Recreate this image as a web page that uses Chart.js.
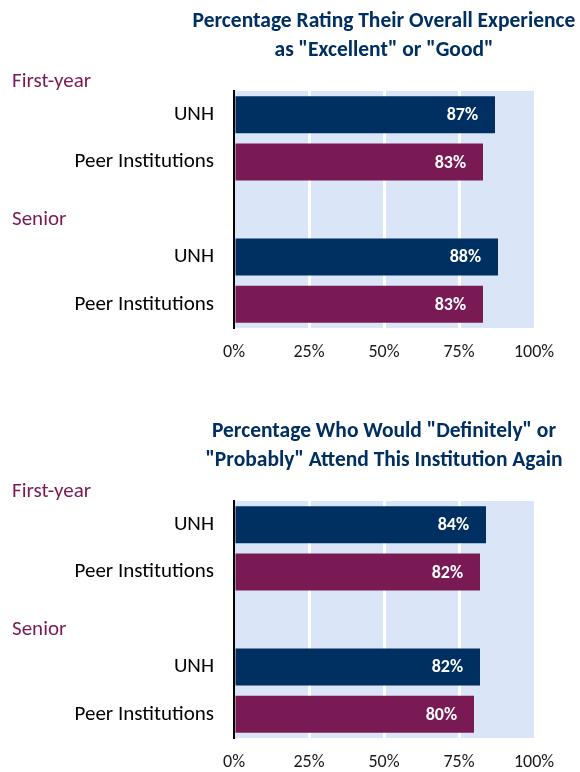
<!DOCTYPE html>
<html>
<head>
<meta charset="utf-8">
<script src="https://cdn.jsdelivr.net/npm/chart.js@4.4.1/dist/chart.umd.min.js"></script>
<style>
  html, body { margin: 0; padding: 0; background: #fff; overflow: hidden; }
  .box { position: absolute; left: 0; width: 580px; }
  #box1 { top: 0; height: 386px; }
  #box2 { top: 410px; height: 362px; }
</style>
</head>
<body>
<div class="box" id="box1"><canvas id="chart1"></canvas></div>
<div class="box" id="box2"><canvas id="chart2"></canvas></div>
<script>
// data
var categories = ['UNH', 'Peer Institutions', '', 'UNH', 'Peer Institutions'];
var groups = ['First-year', 'Senior'];
var experienceValues = [87, 83, null, 88, 83];
var attendValues = [84, 82, null, 82, 80];
var tickValues = [0, 25, 50, 75, 100];
var experienceTitle = ['Percentage Rating Their Overall Experience', 'as "Excellent" or "Good"'];
var attendTitle = ['Percentage Who Would "Definitely" or', '"Probably" Attend This Institution Again'];

var NAVY = '#002f62';
var MAROON = '#7a1a55';
var PLOT_BG = '#dae6f7';
var FONT = 'Carlito, Calibri, Lato, sans-serif';

var barColors = categories.map(function (c, i) {
  return i % 3 === 0 ? NAVY : MAROON;
});

var decorPlugin = {
  id: 'decor',
  beforeDraw: function (chart) {
    var a = chart.chartArea;
    var ctx = chart.ctx;
    ctx.save();
    ctx.fillStyle = PLOT_BG;
    ctx.fillRect(a.left, a.top, a.right - a.left, a.bottom - a.top);
    ctx.restore();
  },
  afterDraw: function (chart) {
    var a = chart.chartArea;
    var ctx = chart.ctx;
    var opts = chart.options.plugins.decor;
    var y = chart.scales.y;
    ctx.save();

    // title, centred over the plot area
    ctx.fillStyle = NAVY;
    ctx.font = 'bold 21.5px ' + FONT;
    ctx.textAlign = 'center';
    ctx.textBaseline = 'alphabetic';
    var cx = (a.left + a.right) / 2;
    opts.title.forEach(function (line, i) {
      ctx.fillText(line, cx, 27 + i * 29);
    });

    // group labels
    ctx.textBaseline = 'middle';
    ctx.fillStyle = MAROON;
    ctx.font = '21px ' + FONT;
    ctx.textAlign = 'left';
    ctx.fillText(groups[0], 12, a.top - 9);
    ctx.fillText(groups[1], 12, y.getPixelForValue(2) + 10);

    // value labels inside bar ends
    ctx.fillStyle = '#fff';
    ctx.font = 'bold 18px ' + FONT;
    ctx.textAlign = 'right';
    var values = chart.data.datasets[0].data;
    chart.getDatasetMeta(0).data.forEach(function (bar, i) {
      if (values[i] == null) return;
      ctx.fillText(values[i] + '%', bar.x - 17, bar.y + 1);
    });
    ctx.restore();
  }
};

function makeChart(id, height, title, values) {
  return new Chart(document.getElementById(id), {
    type: 'bar',
    data: {
      labels: categories,
      datasets: [{
        data: values,
        backgroundColor: barColors,
        barPercentage: 0.78,
        categoryPercentage: 1
      }]
    },
    options: {
      indexAxis: 'y',
      responsive: true,
      maintainAspectRatio: false,
      animation: false,
      layout: { padding: { top: 91, right: 46, left: 0, bottom: 0 } },
      plugins: {
        legend: { display: false },
        tooltip: { enabled: false },
        decor: { title: title }
      },
      scales: {
        x: {
          min: 0,
          max: 100,
          afterBuildTicks: function (s) {
            s.ticks = tickValues.map(function (v) { return { value: v }; });
          },
          afterFit: function (s) { s.height = height - 328; },
          border: { display: false },
          grid: {
            drawTicks: false,
            lineWidth: 3,
            color: function (ctx) {
              var v = ctx.tick && ctx.tick.value;
              return (v === 0 || v === 100) ? 'rgba(0,0,0,0)' : '#fff';
            }
          },
          ticks: {
            padding: 14,
            color: '#1a1a1a',
            font: { family: FONT, size: 18 },
            callback: function (v) { return v + '%'; }
          }
        },
        y: {
          afterFit: function (s) { s.width = 234; },
          border: { display: true, color: '#000', width: 2 },
          grid: { display: false, drawTicks: false },
          ticks: {
            padding: 20,
            color: '#000',
            font: { family: FONT, size: 21 }
          }
        }
      }
    },
    plugins: [decorPlugin]
  });
}

makeChart('chart1', 386, experienceTitle, experienceValues);
makeChart('chart2', 362, attendTitle, attendValues);
</script>
</body>
</html>
